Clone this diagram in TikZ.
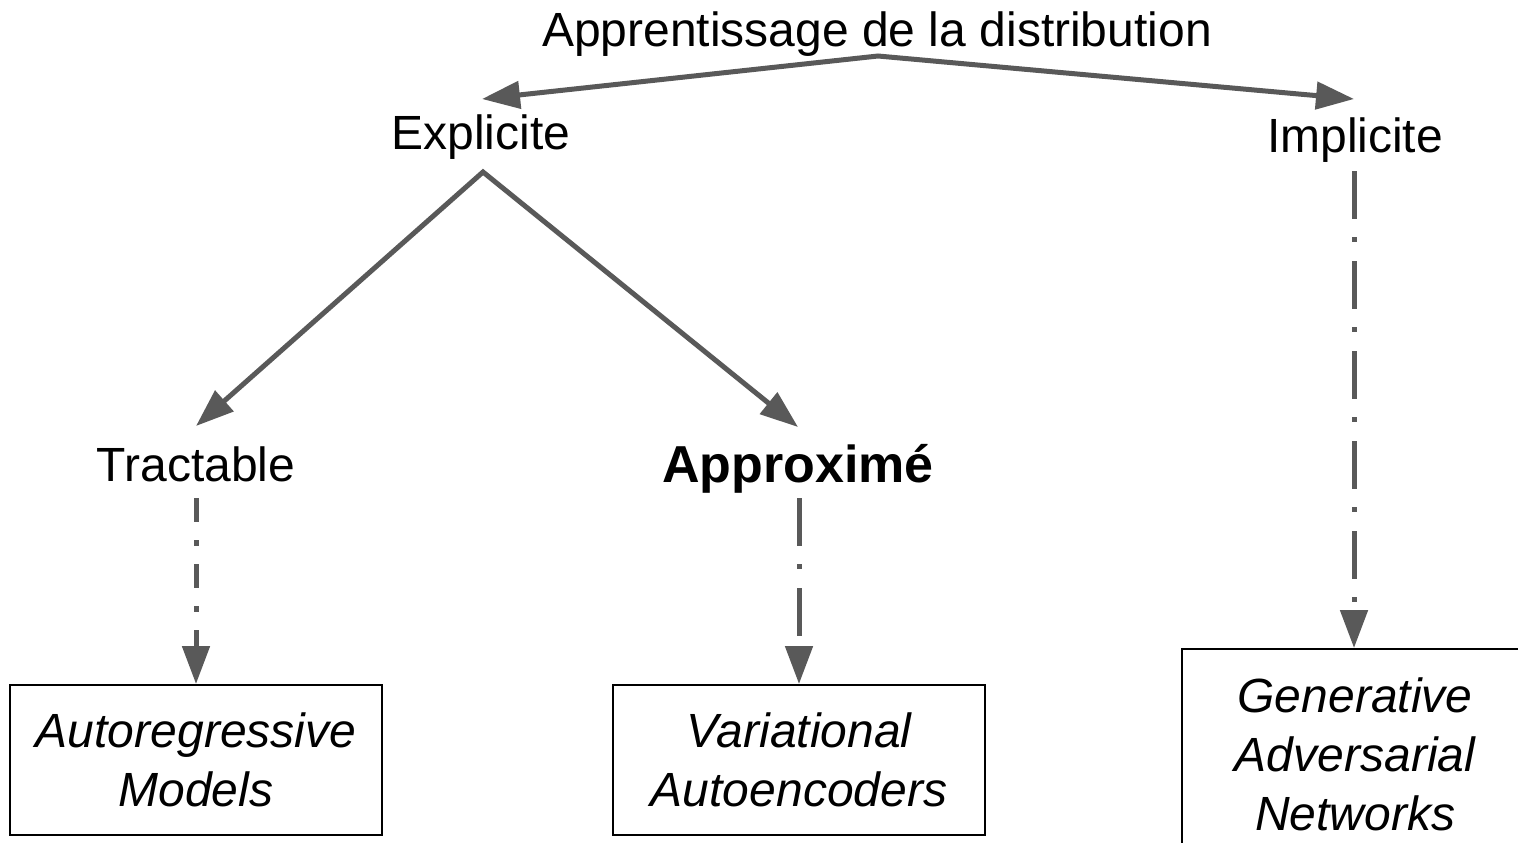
\documentclass[tikz,border=0pt]{standalone}
\usepackage{fontspec}
\setmainfont{Liberation Sans}
\usetikzlibrary{arrows.meta}
\definecolor{linegray}{RGB}{89,89,89}
\begin{document}
\begin{tikzpicture}[x=0.5pt,y=-0.5pt,
  lbl/.style={inner sep=0pt, anchor=base, font=\fontsize{24}{29}\selectfont},
  arr/.style={draw=linegray, line width=2.5pt, -{Triangle[length=19pt,width=13.5pt]}},
  arrboth/.style={draw=linegray, line width=2.5pt, {Triangle[length=19pt,width=13.5pt]}-{Triangle[length=19pt,width=13.5pt]}},
  dd/.style={arr, dash pattern=on 24pt off 9pt on 2.5pt off 9.5pt},
  dds/.style={arr, dash pattern=on 12pt off 9pt on 3pt off 9pt},
  box/.style={draw=black, line width=1pt, minimum width=186pt, minimum height=75pt,
    inner sep=0pt, align=center, font=\itshape\fontsize{24}{29.5}\selectfont}]
\useasboundingbox (0,0) rectangle (1518,842);
\clip (0,0) rectangle (1518,842);

% labels
\node[lbl] (top) at (877,46) {Apprentissage de la distribution};
\node[lbl] (expl) at (481,149) {Explicite};
\node[lbl] (impl) at (1355,152) {Implicite};
\node[lbl] (tract) at (196,481) {Tractable};
\node[lbl, font=\bfseries\fontsize{26}{31}\selectfont] (approx) at (798,482) {Approximé};

% boxes
\node[box] (ar) at (196,760) {Autoregressive\\Models};
\node[box] (vae) at (799,760) {Variational\\Autoencoders};
\node[box, minimum width=173pt, minimum height=105pt] (gan) at (1355,754) {Generative\\Adversarial\\Networks};

% ports
\coordinate (j) at (878,56);
\coordinate (explIn) at (482,99);
\coordinate (implIn) at (1354,99);
\coordinate (explOut) at (483,172);
\coordinate (tractIn) at (196,426);
\coordinate (approxIn) at (798,427);
\coordinate (tractOut) at (196,498);
\coordinate (approxOut) at (799,498);
\coordinate (implOut) at (1354,171);

% connectors
\draw[arrboth] (explIn) -- (j) -- (implIn);
\draw[arrboth] (tractIn) -- (explOut) -- (approxIn);
\draw[dds] (tractOut) -- (tractOut |- ar.north);
\draw[dd] (approxOut) -- (approxOut |- vae.north);
\draw[dd] (implOut) -- (implOut |- gan.north);
\end{tikzpicture}
\end{document}
